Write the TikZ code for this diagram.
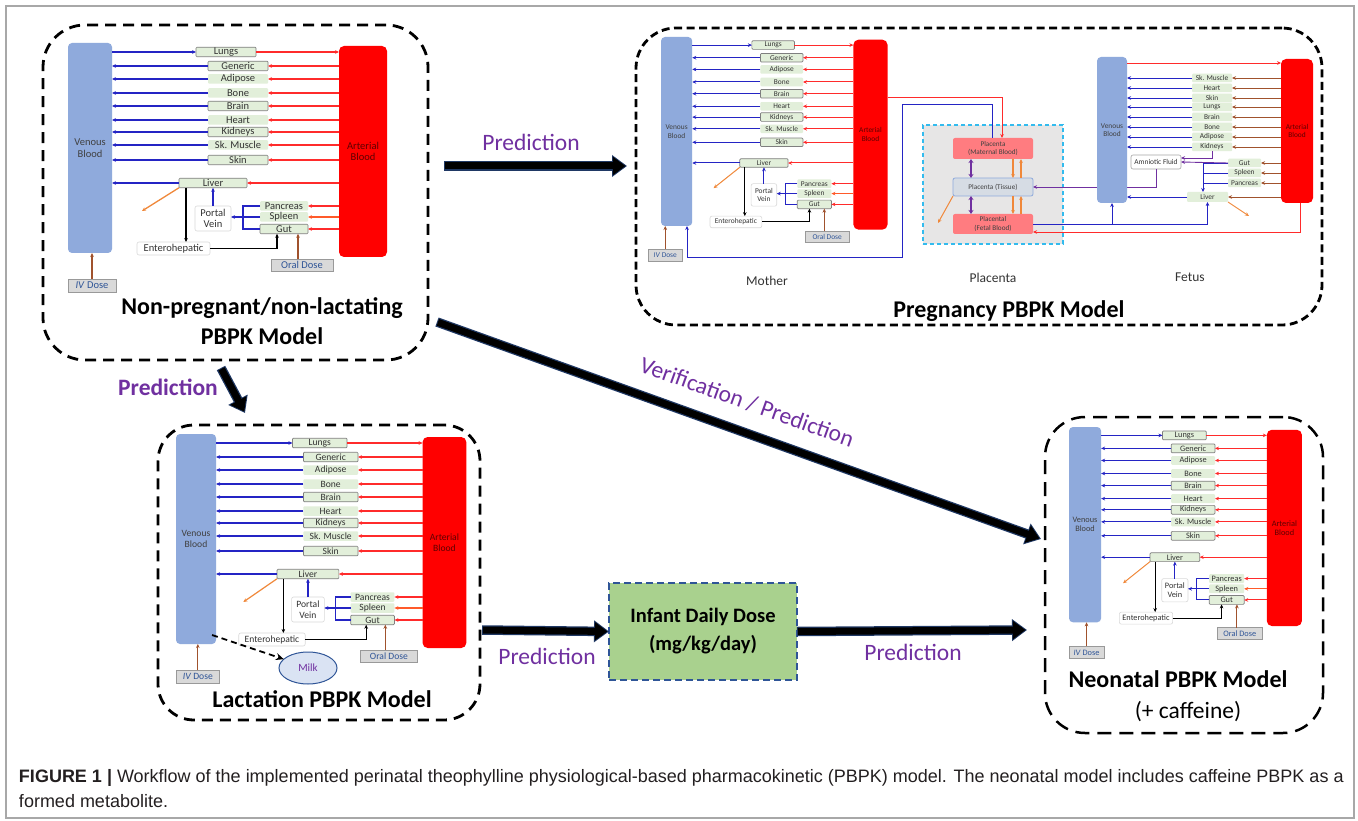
\documentclass[tikz,border=0pt]{standalone}
\usepackage{fontspec}
\setmainfont{Carlito}
\newfontfamily\capfont{Liberation Sans}
\usetikzlibrary{arrows.meta,shapes.geometric}

\definecolor{venblue}{HTML}{8FAADC}
\definecolor{artred}{HTML}{FF0000}
\definecolor{arttext}{HTML}{5E0000}
\definecolor{orgfill}{HTML}{E2EFDA}
\definecolor{orgedge}{HTML}{7F7F7F}
\definecolor{flowblue}{HTML}{2424C4}
\definecolor{flowred}{HTML}{FF2B2B}
\definecolor{spleenred}{HTML}{FF5A2A}
\definecolor{flowbrown}{HTML}{A0522D}
\definecolor{elimorange}{HTML}{F0883A}
\definecolor{purp}{HTML}{7030A0}
\definecolor{dosefill}{HTML}{D9D9D9}
\definecolor{dosetext}{HTML}{2F5597}
\definecolor{arrowedge}{HTML}{1F3864}
\definecolor{placpink}{HTML}{FF7C80}
\definecolor{tissuefill}{HTML}{D6DCE4}
\definecolor{tissueedge}{HTML}{8FAADC}
\definecolor{placzone}{HTML}{E7E6E6}
\definecolor{placedge}{HTML}{33BBEE}
\definecolor{infantfill}{HTML}{A9D18E}
\definecolor{milkfill}{HTML}{DAE3F3}
\definecolor{captext}{HTML}{231F20}
\definecolor{framegray}{HTML}{A8A8A8}

\tikzset{
  every node/.style={inner sep=0pt, outer sep=0pt},
  venbox/.style={fill=venblue, rounded corners=4pt, align=center, text=black!75},
  artbox/.style={fill=artred, rounded corners=5pt, align=center, text=arttext},
  organ/.style={fill=orgfill, rounded corners=1pt, text=black!80},
  organb/.style={organ, draw=orgedge, line width=0.7pt},
  wbox/.style={fill=white, draw=black!15, line width=0.6pt, rounded corners=2pt, align=center, text=black!80},
  dosebox/.style={fill=dosefill, draw=black!40, line width=0.8pt, text=dosetext},
  flow/.style={-{Stealth[length=4pt,width=3.6pt]}},
  bflow/.style={flow, draw=flowblue},
  bline/.style={draw=flowblue},
  rflow/.style={flow, draw=flowred},
  sflow/.style={flow, draw=spleenred},
  kflow/.style={flow, draw=black},
  brflow/.style={flow, draw=flowbrown},
  oflow/.style={flow, draw=elimorange},
  pflow/.style={flow, draw=purp},
  modelbox/.style={draw=black, line width=2.8pt, dash pattern=on 11pt off 7pt, rounded corners=42pt},
  title/.style={font=\fontsize{24}{28}\selectfont\bfseries, text=black},
  predlabel/.style={font=\fontsize{23.5}{28}\selectfont, text=purp},
  sublabel/.style={font=\fontsize{13.5}{16}\selectfont, text=black!80},
}

% A whole-body PBPK layout: #1 name prefix, #2,#3 origin, #4,#5 x/y scale,
% #6,#7 font size and baseline skip, #8 flow line width, #9 x of the IV dose box
\newcommand\pbpkmodel[9]{%
\begin{scope}[shift={(#2,#3)}, xscale=#4, yscale=#5, line width=#8,
   every node/.append style={font=\fontsize{#6}{#7}\selectfont}]
  \node[venbox, minimum width=#4*44pt, minimum height=#5*210pt] (#1-ven) at (22,105) {Venous\\Blood};
  \node[artbox, minimum width=#4*48pt, minimum height=#5*211pt] (#1-art) at (295,108.5) {Arterial\\Blood};
  \node[organb, minimum width=#4*60pt, minimum height=#5*9.5pt] (#1-lungs) at (158,9) {Lungs};
  \draw[bflow] (#1-lungs.west -| #1-ven.east) -- (#1-lungs.west);
  \draw[rflow] (#1-lungs.east) -- (#1-lungs.east -| #1-art.west);
  \foreach \nm/\lab/\yy/\st in {gen/Generic/23/organb, adi/Adipose/36/organ,
      bon/Bone/50/organ, bra/Brain/63/organb, hea/Heart/77/organ,
      kid/Kidneys/89/organb, skm/Sk. Muscle/102/organ, ski/Skin/117/organb}{
    \node[\st, minimum width=#4*60pt, minimum height=#5*9.5pt] (#1-\nm) at (170,\yy) {\lab};
    \draw[bflow] (#1-\nm.west) -- (#1-\nm.west -| #1-ven.east);
    \draw[rflow] (#1-\nm.east -| #1-art.west) -- (#1-\nm.east);
  }
  \node[organb, minimum width=#4*68pt, minimum height=#5*9.5pt] (#1-liv) at (145,140) {Liver};
  \draw[bflow] (#1-liv.west) -- (#1-liv.west -| #1-ven.east);
  \draw[rflow] (#1-liv.east -| #1-art.west) -- (#1-liv.east);
  \node[organ, minimum width=#4*48pt, minimum height=#5*9.5pt] (#1-pan) at (216,163) {Pancreas};
  \node[organ, minimum width=#4*48pt, minimum height=#5*9.5pt] (#1-spl) at (216,174) {Spleen};
  \node[organb, minimum width=#4*48pt, minimum height=#5*9.5pt] (#1-gut) at (216,186) {Gut};
  \draw[rflow] (#1-pan.east -| #1-art.west) -- (#1-pan.east);
  \draw[sflow] (#1-spl.east -| #1-art.west) -- (#1-spl.east);
  \draw[rflow] (#1-gut.east -| #1-art.west) -- (#1-gut.east);
  \node[wbox, minimum width=#4*36pt, minimum height=#5*25pt] (#1-pv) at (145,175.5) {Portal\\Vein};
  \node[wbox, minimum width=#4*73pt, minimum height=#5*13pt] (#1-ent) at (105.5,205.5) {Enterohepatic};
  \node[dosebox, minimum width=#4*62pt, minimum height=#5*12pt] (#1-oral) at (234,222) {Oral Dose};
  \node[dosebox, minimum width=#4*48pt, minimum height=#5*13pt] (#1-iv) at (#9,242.5) {\textit{IV} Dose};
  \coordinate (#1-bk) at (175,0);
  \coordinate (#1-xe) at (118,0);
  \coordinate (#1-xg) at (209,0);
  \coordinate (#1-xo) at (230,0);
  \coordinate (#1-el) at (74,168);
  % splanchnic organs drain through the portal vein
  \draw[bline] (#1-pan.west) -| (#1-bk |- #1-gut.west) -- (#1-gut.west);
  \draw[bflow] (#1-spl.west) -- (#1-pv.east |- #1-spl.west);
  \draw[bflow] (#1-pv.north) -- (#1-pv.north |- #1-liv.south);
  % enterohepatic recirculation
  \draw[kflow] (#1-liv.south -| #1-xe) -- (#1-ent.north -| #1-xe);
  \draw[kflow] (#1-ent.east) -| (#1-gut.south -| #1-xg);
  % dosing and hepatic elimination
  \draw[brflow] (#1-oral.north -| #1-xo) -- (#1-gut.south -| #1-xo);
  \draw[brflow] (#1-iv.north) -- (#1-iv.north |- #1-ven.south);
  \draw[oflow] (#1-liv.south west) -- (#1-el);
\end{scope}}

% thick black workflow arrow with a dark blue rim
\newcommand\blockarrow[2]{%
  \draw[arrowedge, line width=9.5pt, -{Triangle[length=15pt,width=21pt]}] (#1) -- (#2);
  \draw[black, line width=7pt, shorten <=1pt, shorten >=1.6pt,
        -{Triangle[length=12.5pt,width=17.5pt]}] (#1) -- (#2);}

\begin{document}
\begin{tikzpicture}[x=1pt, y=-1pt]
\useasboundingbox (0,0) rectangle (1358,821);
\fill[white] (0,0) rectangle (1358,821);
\draw[framegray, line width=1.2pt] (6,6) rectangle (1354,818);

%% ---------- model frames and titles ----------
\node[modelbox, minimum width=385pt, minimum height=335pt] (npbox) at (235.5,192.5) {};
\node[modelbox, dash pattern=on 8pt off 4.5pt, rounded corners=40pt,
      minimum width=686pt, minimum height=297pt] (prbox) at (979,176.5) {};
\node[modelbox, rounded corners=36pt, minimum width=322pt, minimum height=295pt] (labox) at (319,572.5) {};
\node[modelbox, line width=2.5pt, dash pattern=on 14pt off 8pt, rounded corners=40pt,
      minimum width=278pt, minimum height=316pt] (nebox) at (1184,575) {};

\node[title] (nptitle) at (262,308) {Non-pregnant/non-lactating};
\node[title] (nptitleb) at (262,336) {PBPK Model};
\node[title] (prtitle) at (1009,311) {Pregnancy PBPK Model};
\node[title] (latitle) at (322,699) {Lactation PBPK Model};
\node[title] (netitle) at (1178,679) {Neonatal PBPK Model};
\node[font=\fontsize{23.5}{28}\selectfont] (nesub) at (1188,712) {(+ caffeine)};

%% ---------- the four whole-body models ----------
\pbpkmodel{np}{68}{43}{1}{1}{10.5}{11.5}{1.3pt}{24}
\pbpkmodel{mo}{661}{37}{0.71}{0.9}{7.4}{8.4}{1pt}{6}
\pbpkmodel{la}{176}{434}{0.91}{1}{9.6}{10.8}{1.2pt}{24}
\pbpkmodel{ne}{1069}{427}{0.73}{0.93}{8.3}{9.3}{1pt}{24}

%% ---------- placenta ----------
\begin{scope}[line width=1pt, every node/.append style={font=\fontsize{7.2}{8.2}\selectfont}]
  \node[draw=placedge, fill=placzone, line width=1.2pt, dash pattern=on 4pt off 3pt,
        minimum width=140pt, minimum height=119pt] (pzone) at (993,184.5) {};
  \node[fill=placpink, rounded corners=2pt, minimum width=80pt, minimum height=21pt,
        align=center, text=black!75] (pmat) at (993,148.5) {Placenta\\(Maternal Blood)};
  \node[fill=tissuefill, draw=tissueedge, line width=0.8pt, rounded corners=2pt,
        minimum width=80pt, minimum height=18pt, text=black!75] (ptis) at (993,187) {Placenta (Tissue)};
  \node[fill=placpink, rounded corners=2pt, minimum width=80pt, minimum height=20pt,
        align=center, text=black!75] (pfet) at (993,224) {Placental\\(Fetal Blood)};
  \draw[purp, line width=1.8pt, {Stealth[length=4pt,width=5pt]}-{Stealth[length=4pt,width=5pt]}]
       (pmat.south -| 971,0) -- (ptis.north -| 971,0);
  \draw[purp, line width=1.8pt, {Stealth[length=4pt,width=5pt]}-{Stealth[length=4pt,width=5pt]}]
       (ptis.south -| 971,0) -- (pfet.north -| 971,0);
  \draw[oflow, line width=1.6pt] (pmat.south -| 1013,0) -- (ptis.north -| 1013,0);
  \draw[oflow, line width=1.6pt] (ptis.north -| 1021,0) -- (pmat.south -| 1021,0);
  \draw[oflow, line width=1.6pt] (ptis.south -| 1013,0) -- (pfet.north -| 1013,0);
  \draw[oflow, line width=1.6pt] (pfet.north -| 1021,0) -- (ptis.south -| 1021,0);
  \draw[oflow] (ptis.south west) -- (938,223);
  % maternal circulation to and from the placenta
  \draw[rflow] (mo-art.east |- 0,98) -| (pmat.north -| 1002,0);
  \draw[bflow] (pmat.north -| 992,0) |- (902,105) |- (687,258) -- (mo-ven.south -| 687,0);
\end{scope}

%% ---------- fetus ----------
\begin{scope}[line width=0.9pt, every node/.append style={font=\fontsize{7.4}{8.4}\selectfont}]
  \node[wbox, draw=black!35, minimum width=50pt, minimum height=14pt] (amn) at (1156,162) {Amniotic Fluid};
  % amniotic fluid reaches the placental tissue behind the fetal venous pool
  \draw[pflow] (amn.south) |- (ptis.east);
  \node[venbox, minimum width=30pt, minimum height=146pt] (fven) at (1112,130) {Venous\\Blood};
  \node[artbox, minimum width=32pt, minimum height=144pt] (fart) at (1297,131) {Arterial\\Blood};
  \draw[rflow] (fven.east |- 0,63) -- (fart.west |- 0,63);
  \foreach \nm/\lab/\yy in {fskm/Sk. Muscle/78, fhea/Heart/88, fski/Skin/98, flun/Lungs/107,
      fbra/Brain/117, fbon/Bone/127, fadi/Adipose/137, fkid/Kidneys/147}{
    \node[organ, minimum width=40pt, minimum height=8.5pt] (\nm) at (1212,\yy) {\lab};
    \draw[bflow] (\nm.west) -- (\nm.west -| fven.east);
    \draw[brflow] (\nm.east -| fart.west) -- (\nm.east);
  }
  \foreach \nm/\lab/\yy in {fgut/Gut/163, fspl/Spleen/173, fpan/Pancreas/183}{
    \node[organ, minimum width=33pt, minimum height=8.5pt] (\nm) at (1244.5,\yy) {\lab};
    \draw[brflow] (\nm.east -| fart.west) -- (\nm.east);
  }
  \node[organ, minimum width=41pt, minimum height=10pt] (fliv) at (1207.5,197) {Liver};
  \draw[bflow] (fliv.west) -- (fliv.west -| fven.east);
  \draw[brflow] (fliv.east -| fart.west) -- (fliv.east);
  \coordinate (fbk) at (1203,0);
  \draw[bline] (fgut.west) -| (fbk |- fpan.west) -- (fpan.west);
  \draw[bline] (fspl.west) -- (fspl.west -| fbk);
  \draw[bflow] (fbk |- fpan.west) -- (fbk |- fliv.north);
  \draw[oflow] (fliv.south east) -- (1249,216);
  \draw[pflow] (fkid.south) |- ([yshift=4pt]amn.east);
  \draw[pflow] (fgut.west) -- (amn.east);
  % umbilical circulation
  \draw[bflow] (pfet.east) -| (fliv.south);
  \draw[bflow] (fven.south |- pfet.east) -- (fven.south);
  \draw[rflow] (fart.south -| 1300,0) |- (pfet.east |- 0,232);
\end{scope}

\node[sublabel] (lmother) at (767,281) {Mother};
\node[sublabel] (lplacenta) at (993,278) {Placenta};
\node[sublabel] (lfetus) at (1190,277) {Fetus};

%% ---------- lactation: milk ----------
\node[ellipse, draw=dosetext, fill=milkfill, line width=1pt, minimum width=58pt, minimum height=32pt,
      text=purp, font=\fontsize{11}{12}\selectfont] (milk) at (308,668) {Milk};
\draw[line width=1.8pt, dash pattern=on 6pt off 4pt, -{Stealth[length=8pt,width=7pt]}]
     ([shift={(-4,-9)}]la-ven.south east) -- (milk.160);

%% ---------- infant dose ----------
\node[fill=infantfill, draw=dosetext, line width=2.5pt, dash pattern=on 7pt off 4pt,
      minimum width=188pt, minimum height=97pt, align=center,
      font=\fontsize{20.5}{28}\selectfont\bfseries] (infant) at (703,631.5) {Infant Daily Dose\\(mg/kg/day)};

%% ---------- workflow arrows ----------
\coordinate (a1s) at (444,166);  \coordinate (a1e) at (627,166);
\coordinate (a2s) at (221,368);  \coordinate (a2e) at (245,413);
\coordinate (a3s) at (437,322);  \coordinate (a3e) at (1041,539);
\coordinate (a4s) at (482,630);
\coordinate (a5e) at (1027,630);
\blockarrow{a1s}{a1e}
\blockarrow{a2s}{a2e}
\blockarrow{a3s}{a3e}
\blockarrow{a4s}{infant.west}
\blockarrow{infant.east}{a5e}

\node[predlabel] (p1) at (531,142) {Prediction};
\node[predlabel, font=\fontsize{23.5}{28}\selectfont\bfseries] (p2) at (168,387) {Prediction};
\node[predlabel, rotate=-19.7] (p3) at (747,402) {Verification / Prediction};
\node[predlabel] (p4) at (547,656) {Prediction};
\node[predlabel] (p5) at (913,652) {Prediction};

%% ---------- caption ----------
\node[anchor=west, text=captext, font=\capfont\fontsize{18}{21}\selectfont] (cap1) at (19,778)
  {\textbf{FIGURE 1 |} Workflow of the implemented perinatal theophylline physiological-based pharmacokinetic (PBPK) model. The neonatal model includes caffeine PBPK as a};
\node[anchor=west, text=captext, font=\capfont\fontsize{18}{21}\selectfont] (cap2) at (19,801)
  {formed metabolite.};
\end{tikzpicture}
\end{document}
